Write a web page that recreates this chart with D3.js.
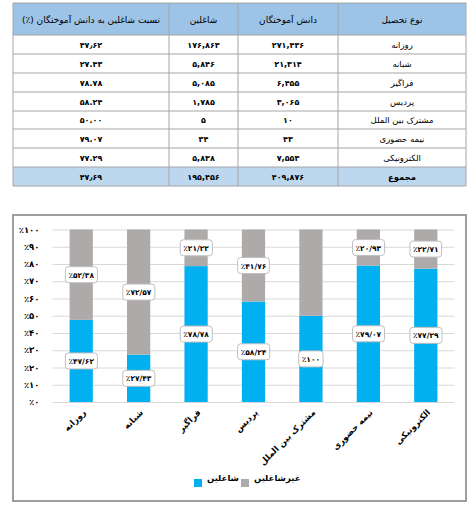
<!DOCTYPE html>
<html><head><meta charset="utf-8">
<script src="https://cdn.jsdelivr.net/npm/d3@7"></script>
<style>
html,body{margin:0;padding:0;background:#fff;}
svg{display:block;font-family:"DejaVu Sans",sans-serif;}
</style></head>
<body>
<svg id="c" width="476" height="506"></svg>
<script>
// ---------- table data ----------
const tableHeaders = ["نسبت شاغلین به دانش آموختگان (٪)", "شاغلین", "دانش آموختگان", "نوع تحصیل"];
const rowNames = ["روزانه","شبانه","فراگیر","پردیس","مشترک بین الملل","نیمه حضوری","الکترونیکی","مجموع"];
const graduates = ["۲۷۱,۴۳۶","۲۱,۳۱۴","۶,۴۵۵","۳,۰۶۵","۱۰","۴۳","۷,۵۵۳","۴۰۹,۸۷۶"];
const employedCount = ["۱۷۶,۸۶۳","۵,۸۴۶","۵,۰۸۵","۱,۷۸۵","۵","۳۴","۵,۸۳۸","۱۹۵,۴۵۶"];
const ratio = ["۴۷٫۶۲","۲۷.۴۳","۷۸.۷۸","۵۸.۲۴","۵۰.۰۰","۷۹.۰۷","۷۷.۲۹","۴۷٫۶۹"];

// ---------- chart data ----------
const categories = ["روزانه","شبانه","فراگیر","پردیس","مشترک بین الملل","نیمه حضوری","الکترونیکی"];
const employedPct = [47.62, 27.43, 78.78, 58.24, 50, 79.07, 77.29];
const notEmployedPct = [52.38, 72.57, 21.22, 41.76, 50, 20.93, 22.71];
const employedLabels = ["٪۴۷/۶۲","٪۲۷/۴۳","٪۷۸/۷۸","٪۵۸/۲۴","٪۱۰۰","٪۷۹/۰۷","٪۷۷/۲۹"];
const notEmployedLabels = ["٪۵۲/۳۸","٪۷۲/۵۷","٪۲۱/۲۲","٪۴۱/۷۶", null,"٪۲۰/۹۳","٪۲۲/۷۱"];
const yTicks = [0,10,20,30,40,50,60,70,80,90,100];
const yTickLabels = ["٪۰","٪۱۰","٪۲۰","٪۳۰","٪۴۰","٪۵۰","٪۶۰","٪۷۰","٪۸۰","٪۹۰","٪۱۰۰"];
const seriesNames = ["شاغلین","غیرشاغلین"];
const seriesColors = ["#00b0f0","#aeaaaa"];

const svg = d3.select("#c");

// ================= TABLE =================
const colEdges = [13, 169, 238, 338, 466];
const rowEdges = [3, 35, 54, 73, 92, 111, 129, 148, 167, 186];
const tg = svg.append("g");
// header background
tg.append("rect").attr("x",colEdges[0]).attr("y",rowEdges[0])
  .attr("width",colEdges[4]-colEdges[0]).attr("height",rowEdges[1]-rowEdges[0]).attr("fill","#9dc3e6");
// total background
tg.append("rect").attr("x",colEdges[0]).attr("y",rowEdges[8])
  .attr("width",colEdges[4]-colEdges[0]).attr("height",rowEdges[9]-rowEdges[8]).attr("fill","#bdd7ee");
// grid lines
rowEdges.forEach(y=>tg.append("line").attr("x1",colEdges[0]).attr("x2",colEdges[4]).attr("y1",y).attr("y2",y)
  .attr("stroke","#a6a6a6").attr("stroke-width",1));
colEdges.forEach(x=>tg.append("line").attr("x1",x).attr("x2",x).attr("y1",rowEdges[0]).attr("y2",rowEdges[9])
  .attr("stroke","#a6a6a6").attr("stroke-width",1));
// header text
tableHeaders.forEach((h,i)=>{
  tg.append("text").attr("x",(colEdges[i]+colEdges[i+1])/2).attr("y",(rowEdges[0]+rowEdges[1])/2+3.5)
    .attr("text-anchor","middle").attr("direction","rtl").attr("font-size",9).attr("fill","#000").text(h);
});
// body text
rowNames.forEach((r,j)=>{
  const cy = (rowEdges[j+1]+rowEdges[j+2])/2+3;
  const vals = [ratio[j], employedCount[j], graduates[j], r];
  vals.forEach((v,i)=>{
    tg.append("text").attr("x",(colEdges[i]+colEdges[i+1])/2).attr("y",cy)
      .attr("text-anchor","middle").attr("direction","rtl")
      .attr("font-size", i===3 ? 8.5 : 8)
      .attr("font-weight", (i<3 || j===7) ? "bold" : "normal")
      .attr("fill","#000").text(v);
  });
});

// ================= CHART =================
const cg = svg.append("g");
cg.append("rect").attr("x",13).attr("y",215).attr("width",453).attr("height",286)
  .attr("fill","#fff").attr("stroke","#7f7f7f").attr("stroke-width",1.5);

const x = d3.scaleBand().domain(categories).range([52.5, 454.5]).paddingInner(0.595).paddingOuter(0.2975);
const y = d3.scaleLinear().domain([0,100]).range([402, 229.5]);

const yAxis = d3.axisLeft(y).tickValues(yTicks)
  .tickFormat((d,i)=>yTickLabels[i]).tickSize(-(454.5-52.5)).tickPadding(13);
const ya = cg.append("g").attr("transform","translate(52.5,0)").call(yAxis);
ya.select(".domain").remove();
ya.selectAll(".tick line").attr("stroke","#d9d9d9").attr("stroke-width",1);
ya.selectAll(".tick text").attr("font-size",8.5).attr("font-weight","bold").attr("fill","#000")
  .attr("font-family","DejaVu Sans");

// stacked data
const stackData = categories.map((c,i)=>({cat:c, emp:employedPct[i], non:notEmployedPct[i], i}));
const stack = d3.stack().keys(["emp","non"])(stackData);
stack.forEach((layer,k)=>{
  cg.append("g").selectAll("rect").data(layer).join("rect")
    .attr("x",d=>x(d.data.cat)).attr("width",x.bandwidth())
    .attr("y",d=>y(d[1])).attr("height",d=>y(d[0])-y(d[1]))
    .attr("fill",seriesColors[k]);
});

// data labels
const labelSets = [employedLabels, notEmployedLabels];
stack.forEach((layer,k)=>{
  layer.forEach((d,i)=>{
    const txt = labelSets[k][i];
    if(!txt) return;
    const cx = x(d.data.cat)+x.bandwidth()/2;
    const cy = y((d[0]+d[1])/2);
    const g = cg.append("g");
    const t = g.append("text").attr("x",cx).attr("y",cy+3).attr("text-anchor","middle")
      .attr("font-size",7.5).attr("font-weight","bold").attr("fill","#000").text(txt);
    const bb = t.node().getBBox();
    g.insert("rect","text").attr("x",bb.x-3).attr("y",cy-8).attr("width",bb.width+6).attr("height",16)
      .attr("rx",3).attr("fill","#fff").attr("stroke","#bfbfbf").attr("stroke-width",1);
  });
});

// x labels
cg.append("g").selectAll("text").data(categories).join("text")
  .attr("transform",d=>`translate(${x(d)+x.bandwidth()/2+5},${413}) rotate(-45)`)
  .attr("text-anchor","end").attr("font-size",8.5).attr("font-weight","bold").attr("fill","#000")
  .text(d=>d);

// legend
const legendPos = [{sx:194, tx:207},{sx:241, tx:254}];
seriesNames.forEach((n,k)=>{
  cg.append("rect").attr("x",legendPos[k].sx).attr("y",479).attr("width",8).attr("height",8).attr("fill",seriesColors[k]);
  cg.append("text").attr("x",legendPos[k].tx).attr("y",481).attr("font-size",8.5).attr("font-weight","bold")
    .attr("fill","#000").text(n);
});
</script>
</body></html>
